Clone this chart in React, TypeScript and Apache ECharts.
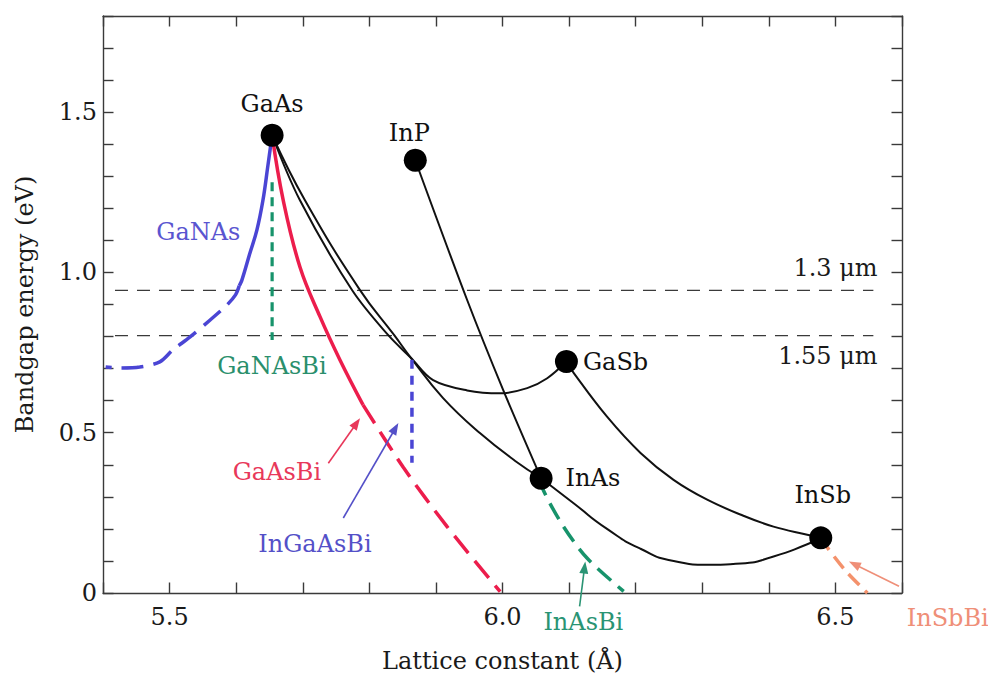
import React, { useEffect, useRef } from "react";
import * as echarts from "echarts";

// ---------- data (lattice constant Å, bandgap eV) ----------
const compoundNames = ["GaAs", "InP", "GaSb", "InAs", "InSb"];
const compoundLattice = [5.654, 5.869, 6.096, 6.058, 6.478];
const compoundGap = [1.428, 1.35, 0.722, 0.358, 0.172];

const gaAsSb = [[5.654, 1.428], [5.6958, 1.225], [5.774, 0.945], [5.8281, 0.805], [5.8627, 0.733], [5.8958, 0.664], [5.9469, 0.632], [5.9965, 0.623], [6.0371, 0.639], [6.0672, 0.67], [6.096, 0.722]];
const inGaAs = [[5.654, 1.428], [5.7033, 1.225], [5.786, 0.945], [5.8371, 0.805], [5.8627, 0.733], [5.9108, 0.608], [5.9665, 0.498], [6.0191, 0.412], [6.058, 0.358]];
const inAsP = [[5.869, 1.35], [5.9469, 0.914], [6.0011, 0.633], [6.058, 0.358]];
const gaInSb = [[6.096, 0.722], [6.1071, 0.686], [6.157, 0.55], [6.2073, 0.437], [6.2569, 0.353], [6.3074, 0.291], [6.3582, 0.244], [6.407, 0.207], [6.4577, 0.182], [6.478, 0.172]];
const inAsSb = [[6.058, 0.358], [6.1068, 0.28], [6.157, 0.2], [6.2073, 0.138], [6.2571, 0.1], [6.3074, 0.088], [6.3582, 0.092], [6.4071, 0.114], [6.4577, 0.152], [6.478, 0.172]];

const gaNAsSolid = [[5.654, 1.428], [5.6477, 1.334], [5.6402, 1.225], [5.6311, 1.132], [5.6206, 1.06], [5.6086, 0.976], [5.6046, 0.958]];
const gaNAsDashed = [[5.6046, 0.958], [5.599, 0.93], [5.586, 0.898], [5.5605, 0.851], [5.5304, 0.798], [5.5048, 0.758], [5.4853, 0.721], [5.4552, 0.705], [5.4251, 0.702], [5.404, 0.705]];
const gaNAsBi = [[5.654, 1.281], [5.654, 0.789]];
const gaAsBiSolid = [[5.654, 1.428], [5.6707, 1.225], [5.6958, 1.017], [5.7259, 0.862], [5.7559, 0.727], [5.7905, 0.587]];
const gaAsBiDashed = [[5.7905, 0.587], [5.8507, 0.393], [5.9168, 0.207], [5.9965, 0.004]];
const inGaAsBi = [[5.864, 0.728], [5.864, 0.406]];
const inAsBi = [[6.058, 0.358], [6.0612, 0.321], [6.0917, 0.207], [6.1269, 0.109], [6.182, 0.005]];
const inSbBi = [[6.478, 0.172], [6.4823, 0.157], [6.515, 0.07], [6.548, 0.0]];

const wavelengthNames = ["1.3 μm", "1.55 μm"];
const wavelengthGap = [0.944, 0.803];
const wavelengthSpan = [5.418, 6.557];
const wavelengthLabelAt = [[6.5634, 1.0134], [6.5634, 0.7393]];

// annotation text anchors [lattice, gap]
const alloyLabels = ["GaNAs", "GaNAsBi", "GaAsBi", "InGaAsBi", "InAsBi", "InSbBi"];
const alloyLabelAt = [[5.5432, 1.1255], [5.6537, 0.708], [5.6612, 0.378], [5.7183, 0.154], [6.1214, -0.0894], [6.6687, -0.0769]];
// arrows: [start, tip]
const arrowNames = ["GaAsBi", "InGaAsBi", "InAsBi", "InSbBi"];
const arrowFrom = [[5.7384, 0.405], [5.7609, 0.234], [6.1158, -0.042], [6.5955, 0.021]];
const arrowTo = [[5.786, 0.545], [5.8436, 0.53], [6.1243, 0.098], [6.5203, 0.098]];

// ---------- styles ----------
const FONT = "'DejaVu Serif', serif";
const BLUE = "#4a45d4";
const RED = "#ec1d4c";
const GREEN = "#17936b";
const SALMON = "#f4926c";
const BLACK = "#111111";
const labelColor: Record<string, string> = {
  GaNAs: "#5a55d0",
  GaNAsBi: "#2a8f6c",
  GaAsBi: "#e8385a",
  InGaAsBi: "#5450c8",
  InAsBi: "#2a9474",
  InSbBi: "#ef8f78",
};
const compoundLabelPlace: any[] = [
  { position: "top", distance: 8 },
  { position: "top", distance: 4, offset: [-6, 0] },
  { position: "right", distance: 5 },
  { position: "right", distance: 13 },
  { position: "top", distance: 19, offset: [2, 0] },
];

function lineSeries(data: number[][], color: string, width: number, type: any, smooth: any, z = 3) {
  return {
    type: "line",
    data,
    symbol: "none",
    showSymbol: false,
    smooth,
    silent: true,
    clip: false,
    z,
    lineStyle: { color, width, type, cap: "butt", opacity: 1 },
  };
}

const axisLineStyle = { color: "#3a3a3a", width: 1.4 };

const fmtX = (v: number) => (Math.abs(v * 2 - Math.round(v * 2)) < 1e-6 ? v.toFixed(1) : "");
const fmtY = (v: number) => (Math.abs(v) < 1e-9 ? "0" : Math.abs(v * 2 - Math.round(v * 2)) < 1e-6 ? v.toFixed(1) : "");

export default function App() {
  const ref = useRef<HTMLDivElement>(null);
  useEffect(() => {
    document.body.style.margin = "0";
    const chart = echarts.init(ref.current!, null, { renderer: "svg" });
    const option: any = {
      animation: false,
      backgroundColor: "#ffffff",
      textStyle: { fontFamily: FONT },
      grid: { left: 103, top: 16, width: 799, height: 577, containLabel: false, outerBoundsMode: "none" },
      xAxis: [
        {
          type: "value", min: 5.4, max: 6.6, interval: 0.1, position: "bottom",
          axisLine: { show: true, onZero: false, lineStyle: axisLineStyle },
          axisTick: { show: true, inside: true, length: 10.5, lineStyle: axisLineStyle },
          axisLabel: { formatter: fmtX, fontFamily: FONT, fontSize: 24, color: "#1a1a1a", margin: 12 },
          splitLine: { show: false },
          name: "Lattice constant (Å)", nameLocation: "middle", nameGap: 56,
          nameTextStyle: { fontFamily: FONT, fontSize: 24, color: "#1a1a1a" },
        },
        {
          type: "value", min: 5.4, max: 6.6, interval: 0.1, position: "top",
          axisLine: { show: true, onZero: false, lineStyle: axisLineStyle },
          axisTick: { show: true, inside: true, length: 10.5, lineStyle: axisLineStyle },
          axisLabel: { show: false }, splitLine: { show: false },
        },
      ],
      yAxis: [
        {
          type: "value", min: 0, max: 1.8, interval: 0.1, position: "left",
          axisLine: { show: true, onZero: false, lineStyle: axisLineStyle },
          axisTick: { show: true, inside: true, length: 10.5, lineStyle: axisLineStyle },
          axisLabel: { formatter: fmtY, fontFamily: FONT, fontSize: 24, color: "#1a1a1a", margin: 6 },
          splitLine: { show: false },
          name: "Bandgap energy (eV)", nameLocation: "middle", nameGap: 66, nameRotate: 90,
          nameTextStyle: { fontFamily: FONT, fontSize: 24, color: "#1a1a1a" },
        },
        {
          type: "value", min: 0, max: 1.8, interval: 0.1, position: "right",
          axisLine: { show: true, onZero: false, lineStyle: axisLineStyle },
          axisTick: { show: true, inside: true, length: 10.5, lineStyle: axisLineStyle },
          axisLabel: { show: false }, splitLine: { show: false },
        },
      ],
      series: [
        // wavelength reference lines
        ...wavelengthGap.map((g) =>
          lineSeries([[wavelengthSpan[0], g], [wavelengthSpan[1], g]], "#3a3a3a", 1.4, [13, 9], false, 1)
        ),
        lineSeries(gaAsSb, BLACK, 2, "solid", 0.35),
        lineSeries(inGaAs, BLACK, 2, "solid", 0.45),
        lineSeries(inAsP, BLACK, 2, "solid", 0.3),
        lineSeries(gaInSb, BLACK, 2, "solid", 0.4),
        lineSeries(inAsSb, BLACK, 2, "solid", 0.6),
        lineSeries(gaNAsSolid, BLUE, 3.5, "solid", 0.4, 4),
        lineSeries(gaNAsDashed, BLUE, 3.5, [22, 10], 0.3, 4),
        lineSeries(gaNAsBi, GREEN, 3.2, [9, 6], false, 4),
        lineSeries(gaAsBiSolid, RED, 3.5, "solid", 0.4, 4),
        lineSeries(gaAsBiDashed, RED, 3.5, [22, 10], 0.3, 4),
        lineSeries(inGaAsBi, BLUE, 3.5, [9, 7], false, 4),
        lineSeries(inAsBi, GREEN, 3.5, [18, 9], 0.3, 4),
        lineSeries(inSbBi, SALMON, 3.5, [15, 8], 0.3, 4),
        {
          type: "scatter",
          symbol: "circle",
          symbolSize: 23,
          silent: true,
          z: 10,
          itemStyle: { color: "#000000", opacity: 1 },
          data: compoundNames.map((n, i) => ({
            name: n,
            value: [compoundLattice[i], compoundGap[i]],
            label: {
              show: true,
              formatter: n,
              fontFamily: FONT,
              fontSize: 24,
              color: "#111111",
              opacity: 1,
              ...compoundLabelPlace[i],
            },
          })),
        },
      ],
    };
    chart.setOption(option);

    const toPx = (p: number[]) => chart.convertToPixel({ xAxisIndex: 0, yAxisIndex: 0 }, p) as number[];
    const graphics: any[] = [];
    alloyLabels.forEach((name, i) => {
      const [x, y] = toPx(alloyLabelAt[i]);
      graphics.push({
        type: "text", silent: true, z: 20,
        style: { text: name, x, y, fill: labelColor[name], font: `24px ${FONT}`, align: "center", verticalAlign: "middle" },
      });
    });
    wavelengthNames.forEach((name, i) => {
      const [x, y] = toPx(wavelengthLabelAt[i]);
      graphics.push({
        type: "text", silent: true, z: 20,
        style: { text: name, x, y, fill: "#1a1a1a", font: `24px ${FONT}`, align: "right", verticalAlign: "middle" },
      });
    });
    arrowNames.forEach((name, i) => {
      const [sx, sy] = toPx(arrowFrom[i]);
      const [tx, ty] = toPx(arrowTo[i]);
      const len = Math.hypot(tx - sx, ty - sy);
      const dx = (tx - sx) / len, dy = (ty - sy) / len;
      const nx = -dy, ny = dx;
      const L = 12, W = 4.5;
      const bx = tx - dx * L, by = ty - dy * L;
      const col = labelColor[name];
      graphics.push({
        type: "line", silent: true, z: 20,
        shape: { x1: sx, y1: sy, x2: bx + dx * 2, y2: by + dy * 2 },
        style: { stroke: col, lineWidth: 1.6 },
      });
      graphics.push({
        type: "polygon", silent: true, z: 20,
        shape: { points: [[tx, ty], [bx + nx * W, by + ny * W], [bx - nx * W, by - ny * W]] },
        style: { fill: col },
      });
    });
    chart.setOption({ graphic: graphics });
    return () => chart.dispose();
  }, []);
  return <div ref={ref} style={{ width: 988, height: 677, background: "#fff" }} />;
}
